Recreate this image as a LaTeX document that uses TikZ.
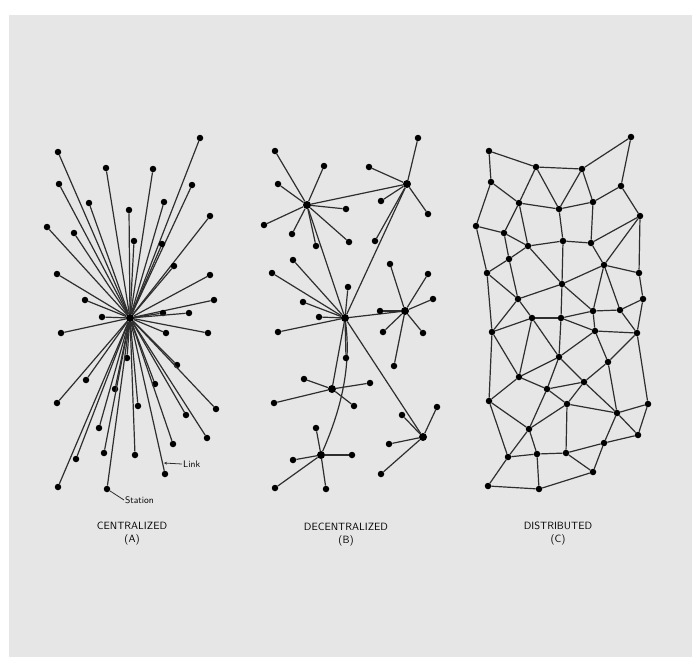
\documentclass[tikz,border=0pt]{standalone}
\usepackage{xcolor}
\usepackage{tikz}
\usetikzlibrary{positioning, arrows.meta}

\definecolor{paper}{HTML}{E6E6E6}
\definecolor{ink}{HTML}{2E2E2E}

\begin{document}
\begin{tikzpicture}[
    x=1pt, y=-1pt,
    station/.style={
        circle,
        fill=black,
        inner sep=0pt,
        minimum size=6.5pt
    },
    hub/.style={
        station,
        minimum size=8pt
    },
    link/.style={
        draw=ink,
        line width=1.2pt
    },
    caption/.style={
        inner sep=0pt,
        font=\fontsize{10.5}{12}\sffamily
    },
    pointer/.style={
        anchor=west,
        inner sep=1pt,
        font=\fontsize{9.5}{11}\sffamily
    }
]

\useasboundingbox (0,0) rectangle (692,657);
\fill[paper] (9,15) rectangle (692,657);

% (A) Centralized

\node[hub] (hubA) at (130,318) {};

\foreach \n/\x/\y in {
    1/200/138, 2/58/152, 3/106/168, 4/153/169, 5/192/185,
    6/59/184, 7/89/203, 8/164/202, 9/129/210, 10/210/216,
    11/47/227, 12/74/233, 13/134/241, 14/162/244, 15/174/266,
    16/57/274, 17/210/275, 18/85/300, 19/214/300, 20/163/313,
    21/189/313, 22/102/317, 23/61/333, 24/166/333, 25/208/333,
    26/127/358, 27/177/365, 28/86/380, 29/115/389, 30/155/384,
    31/57/403, 32/216/409, 33/138/406, 34/186/415, 35/99/428,
    36/207/438, 37/104/453, 38/173/444, 39/135/455, 40/76/459,
    41/165/474, 42/58/487, 43/107/489} {
    \node[station] (a\n) at (\x,\y) {};
    \draw[link] (hubA) -- (a\n);
}

\node[pointer] (stationlabel) at (124,500) {Station};
\draw[link, line width=0.8pt] (a43) -- (stationlabel.west);

\coordinate (linkpt) at (164,463);
\node[pointer] (linklabel) at (182,464) {Link};
\draw[link, line width=0.8pt, {Stealth[length=3pt, width=3pt]}-] (linkpt) -- (linklabel.west);

\node[caption] (capA) at (132,526) {CENTRALIZED};
\node[caption, below=4pt of capA] (tagA) {(A)};

% (B) Decentralized

\node[hub] (b1) at (307,205) {};
\node[hub] (b2) at (407,184) {};
\node[hub] (b3) at (345,318) {};
\node[hub] (b4) at (405,311) {};
\node[hub] (b5) at (332,389) {};
\node[hub] (b6) at (321,455) {};
\node[hub] (b7) at (423,437) {};

\draw[link] (b1) -- (b2);
\draw[link] (b1) -- (b3);
\draw[link] (b2) -- (b3);
\draw[link] (b3) -- (b4);
\draw[link] (b3) -- (b5);
\draw[link] (b3) .. controls +(6,45) and +(22,-50) .. (b6);
\draw[link] (b3) -- (b7);

\foreach \x/\y [count=\n] in {275/151, 324/166, 278/184, 346/209,
    264/225, 292/234, 316/246, 349/242} {
    \node[station] (b1-\n) at (\x,\y) {};
    \draw[link] (b1) -- (b1-\n);
}
\foreach \x/\y [count=\n] in {418/138, 369/167, 381/201, 428/214, 375/241} {
    \node[station] (b2-\n) at (\x,\y) {};
    \draw[link] (b2) -- (b2-\n);
}
\foreach \x/\y [count=\n] in {293/260, 272/273, 348/287, 303/302,
    319/317, 278/332, 346/358} {
    \node[station] (b3-\n) at (\x,\y) {};
    \draw[link] (b3) -- (b3-\n);
}
\foreach \x/\y [count=\n] in {390/264, 428/274, 433/299, 380/311,
    383/332, 423/333, 394/366} {
    \node[station] (b4-\n) at (\x,\y) {};
    \draw[link] (b4) -- (b4-\n);
}
\foreach \x/\y [count=\n] in {304/379, 370/383, 274/403, 354/406} {
    \node[station] (b5-\n) at (\x,\y) {};
    \draw[link] (b5) -- (b5-\n);
}
\foreach \x/\y [count=\n] in {316/428, 293/460, 352/455, 275/488, 326/489} {
    \node[station] (b6-\n) at (\x,\y) {};
    \draw[link] (b6) -- (b6-\n);
}
\foreach \x/\y [count=\n] in {402/415, 437/407, 389/444, 381/474} {
    \node[station] (b7-\n) at (\x,\y) {};
    \draw[link] (b7) -- (b7-\n);
}

\node[caption] (capB) at (346,527) {DECENTRALIZED};
\node[caption, below=4pt of capB] (tagB) {(B)};

% (C) Distributed

\foreach \n/\x/\y in {
    1/489/151, 2/536/167, 3/582/169, 4/631/137, 5/491/182,
    6/621/186, 7/519/203, 8/559/209, 9/593/202, 10/640/216,
    11/476/226, 12/504/233, 13/563/241, 14/591/243, 15/528/246,
    16/509/259, 17/604/265, 18/487/273, 19/639/273, 20/562/284,
    21/518/299, 22/643/299, 23/593/311, 24/620/310, 25/532/318,
    26/561/318, 27/492/332, 28/595/331, 29/637/333, 30/559/357,
    31/608/362, 32/519/377, 33/584/382, 34/547/389, 35/489/401,
    36/567/404, 37/648/404, 38/617/413, 39/529/429, 40/638/435,
    41/604/443, 42/508/457, 43/537/454, 44/566/453, 45/593/472,
    46/488/486, 47/539/489} {
    \node[station] (m\n) at (\x,\y) {};
}

\foreach \p/\q in {
    1/2, 1/5, 2/3, 3/4, 4/6, 2/7, 2/8, 3/8, 3/9, 5/7, 5/11, 6/9,
    6/10, 7/8, 8/9, 8/13, 9/14, 7/12, 7/15, 11/12, 11/18, 12/16,
    12/15, 15/13, 13/14, 14/10, 10/17, 10/19, 14/17, 15/16, 16/18,
    15/20, 13/20, 17/20, 17/19, 17/23, 17/24, 19/22, 22/24, 23/24,
    18/21, 20/21, 20/23, 20/26, 16/21, 21/25, 25/26, 26/23,
    21/27, 18/27, 27/25, 23/28, 24/29, 22/29, 26/30, 26/28, 28/29,
    25/30, 25/32, 27/32, 28/30, 28/31, 29/31, 29/37, 30/32, 30/33,
    30/34, 31/33, 31/38, 32/34, 32/35, 33/34, 33/36, 33/38, 34/36,
    34/39, 27/35, 35/39, 35/42, 36/38, 36/39, 36/44, 37/38, 37/40,
    38/40, 38/41, 39/42, 39/43, 40/41, 42/43, 43/44, 44/41, 41/45,
    44/45, 42/46, 43/47, 46/47, 45/47} {
    \draw[link] (m\p) -- (m\q);
}

\node[caption] (capC) at (558,526) {DISTRIBUTED};
\node[caption, below=4pt of capC] (tagC) {(C)};

\end{tikzpicture}
\end{document}
